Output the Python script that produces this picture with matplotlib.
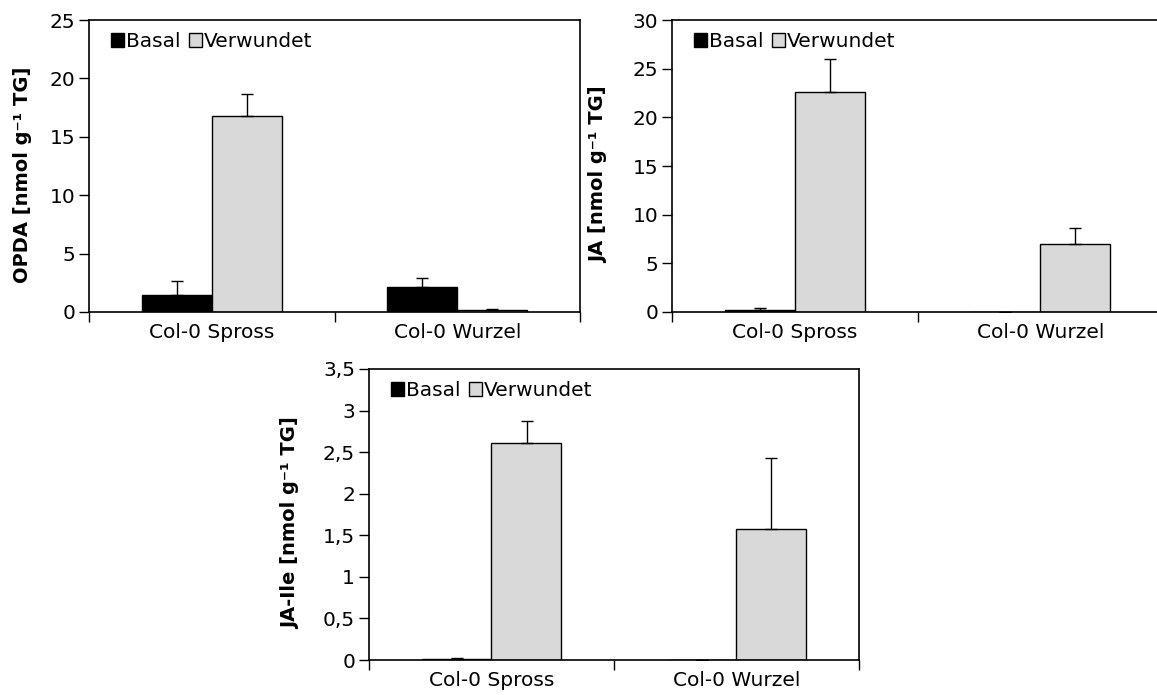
import matplotlib
matplotlib.use("Agg")
import matplotlib.pyplot as plt
from matplotlib.ticker import FuncFormatter

# values (Spross, Wurzel)
groups = ["Col-0 Spross", "Col-0 Wurzel"]
series = ["Basal", "Verwundet"]

opda_basal = [1.45, 2.1]
opda_basal_err = [1.2, 0.78]
opda_wound = [16.8, 0.13]
opda_wound_err = [1.9, 0.1]

ja_basal = [0.22, 0.0]
ja_basal_err = [0.2, 0.0]
ja_wound = [22.6, 7.0]
ja_wound_err = [3.4, 1.6]

jaile_basal = [0.01, 0.0]
jaile_basal_err = [0.015, 0.0]
jaile_wound = [2.61, 1.58]
jaile_wound_err = [0.26, 0.85]

plt.rcParams['font.family'] = 'DejaVu Sans'
plt.rcParams['font.size'] = 14.5

fig = plt.figure(figsize=(11.57, 6.95), dpi=100)

ax1 = fig.add_axes([89/1157, 1-312/695, 491/1157, 292/695])
ax2 = fig.add_axes([672/1157, 1-312/695, 491/1157, 292/695])
ax3 = fig.add_axes([369/1157, 1-660/695, 490/1157, 291/695])

w = 1/3.5  # excel gap width 150%


def draw(ax, basal, berr, wound, werr, ymax, ystep, ylabel, lab_x, comma=False):
    xs = [i + 0.5 for i in range(len(groups))]
    ax.bar([x - w/2 for x in xs], basal, w, color='black', edgecolor='black',
           linewidth=1, label=series[0], zorder=2)
    ax.bar([x + w/2 for x in xs], wound, w, color='#d9d9d9', edgecolor='black',
           linewidth=1, label=series[1], zorder=2)
    ax.errorbar([x - w/2 for x in xs], basal, yerr=[[0]*len(berr), berr], fmt='none',
                ecolor='black', elinewidth=1, capsize=4, capthick=1, zorder=3)
    ax.errorbar([x + w/2 for x in xs], wound, yerr=[[0]*len(werr), werr], fmt='none',
                ecolor='black', elinewidth=1, capsize=4, capthick=1, zorder=3)

    ax.set_xlim(0, len(groups))
    ax.set_ylim(0, ymax)
    ticks = []
    v = 0
    while v <= ymax + 1e-9:
        ticks.append(v)
        v += ystep
    ax.set_yticks(ticks)
    if comma:
        ax.yaxis.set_major_formatter(FuncFormatter(lambda t, p: ('%g' % t).replace('.', ',')))
    ax.set_xticks(range(len(groups) + 1))
    ax.set_xticklabels([])
    ax.set_xticks(xs, minor=True)
    ax.set_xticklabels(groups, minor=True)
    ax.tick_params(axis='x', which='major', direction='out', length=7, width=1)
    ax.tick_params(axis='x', which='minor', length=0, pad=8)
    ax.tick_params(axis='y', direction='out', length=7, width=1, pad=3)
    for s in ax.spines.values():
        s.set_linewidth(1.2)
        s.set_color('black')
    ax.set_ylabel(ylabel, fontweight='bold', fontsize=14)
    ax.yaxis.set_label_coords(lab_x, 0.47)
    ax.legend(loc='upper left', ncol=2, frameon=False, handlelength=0.65,
              handleheight=0.65, handletextpad=0.1, columnspacing=0.4,
              borderaxespad=0.2, bbox_to_anchor=(0.02, 1.0))


draw(ax1, opda_basal, opda_basal_err, opda_wound, opda_wound_err, 25, 5,
     "OPDA [nmol g⁻¹ TG]", -0.116)
draw(ax2, ja_basal, ja_basal_err, ja_wound, ja_wound_err, 30, 5,
     "JA [nmol g⁻¹ TG]", -0.13)
draw(ax3, jaile_basal, jaile_basal_err, jaile_wound, jaile_wound_err, 3.5, 0.5,
     "JA-Ile [nmol g⁻¹ TG]", -0.141, comma=True)

fig.savefig("out.png", dpi=100)
